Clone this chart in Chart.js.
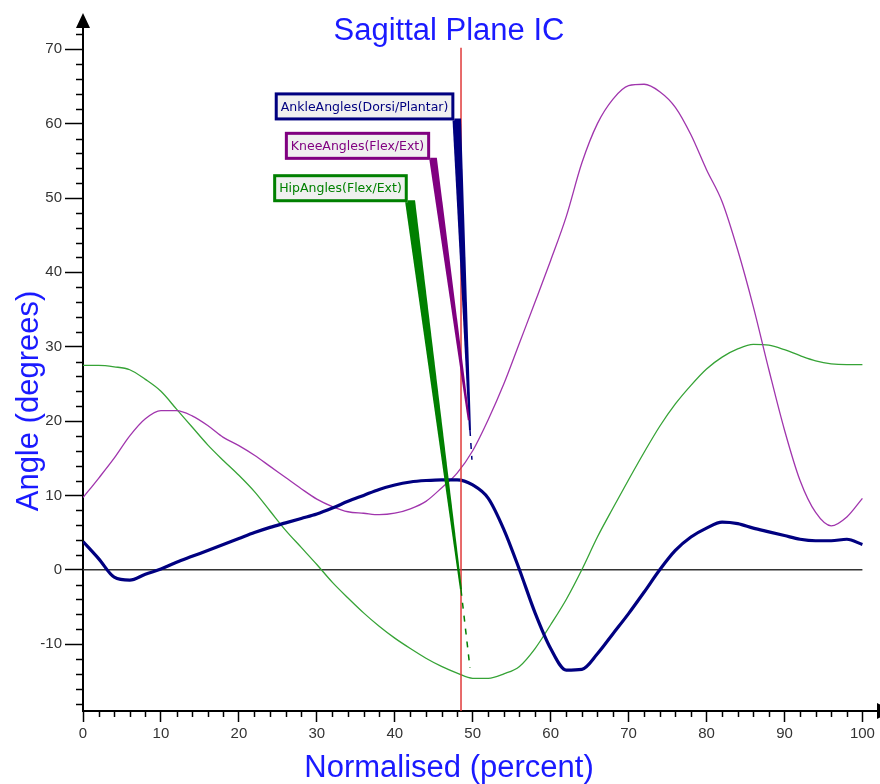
<!DOCTYPE html>
<html>
<head>
<meta charset="utf-8">
<script src="https://cdn.jsdelivr.net/npm/chart.js@4.4.0/dist/chart.umd.min.js"></script>
<style>
  html, body { margin: 0; padding: 0; background: #fff; }
  #wrap { width: 880px; height: 784px; }
</style>
</head>
<body>
<div id="wrap"><canvas id="chart" width="880" height="784"></canvas></div>
<script>
// normalised gait cycle (percent)
const cycle = [0, 2, 4, 6, 8, 10, 12, 14, 16, 18, 20, 22, 24, 26, 28, 30, 32, 34, 36, 38, 40,
  42, 44, 46, 48, 50, 52, 54, 56, 58, 60, 62, 64, 66, 68, 70, 72, 74, 76, 78, 80,
  82, 84, 86, 88, 90, 92, 94, 96, 98, 100]

const ankleAngles = [3.8, 1.5, -1.0, -1.4, -0.6, 0.1, 1.0, 1.8, 2.6, 3.4, 4.2, 5.0, 5.7, 6.3, 6.9, 7.5, 8.3, 9.2, 10.0, 10.8, 11.4,
  11.8, 12.0, 12.1, 12.1, 11.4, 9.6, 5.4, 0.0, -5.8, -10.6, -13.5, -13.4, -11.3, -8.6, -5.9, -3.0, 0.0, 2.6, 4.4, 5.6,
  6.4, 6.2, 5.6, 5.1, 4.6, 4.1, 3.9, 3.9, 4.1, 3.4]

const kneeAngles = [9.7, 12.3, 15.0, 18.0, 20.3, 21.4, 21.4, 20.7, 19.4, 17.8, 16.7, 15.4, 13.9, 12.4, 10.9, 9.5, 8.5, 7.8, 7.6, 7.4, 7.6,
  8.2, 9.2, 11.0, 13.0, 16.0, 20.2, 25.0, 30.5, 36.0, 41.6, 47.5, 54.7, 60.0, 63.3, 65.1, 65.3, 64.3, 62.2, 58.5, 53.8,
  49.5, 43.0, 35.4, 26.9, 18.8, 12.0, 7.7, 5.9, 7.1, 9.6]

const hipAngles = [27.5, 27.5, 27.3, 26.9, 25.6, 24.0, 21.6, 19.2, 16.8, 14.7, 12.7, 10.5, 7.9, 5.3, 3.0, 0.7, -1.7, -3.8, -5.8, -7.6, -9.2,
  -10.6, -11.9, -13.0, -13.9, -14.6, -14.6, -14.0, -13.0, -10.6, -7.4, -4.0, 0.0, 4.4, 8.3, 12.1, 15.8, 19.3, 22.3, 24.8, 27.0,
  28.6, 29.7, 30.3, 30.2, 29.6, 28.8, 28.1, 27.7, 27.6, 27.6]

const yTicks = [-10, 0, 10, 20, 30, 40, 50, 60, 70]
const xTicks = [0, 10, 20, 30, 40, 50, 60, 70, 80, 90, 100]

const seriesNames = ["AnkleAngles(Dorsi/Plantar)", "KneeAngles(Flex/Ext)", "HipAngles(Flex/Ext)"]
const icEvent = 48.5

const FONT = "'Liberation Sans', Arial, sans-serif"
const BLUE = "#1a1aff"

// callouts in data units: box top-left, leader base (x1,x2), tip and dotted tail
const callouts = [
  { color: "#000080", left: 24.6, top: 64.2, base: [47.4, 48.5], tip: [49.65, 18.8], tail: [49.9, 14.8] },
  { color: "#800080", left: 25.9, top: 58.9, base: [44.4, 45.4], tip: [49.5, 20.1], tail: null },
  { color: "#008000", left: 24.4, top: 53.2, base: [41.3, 42.6], tip: [48.5, -2.7], tail: [49.65, -13.2] },
]

function pts(ys) {
  return cycle.map((x, i) => ({ x: x, y: ys[i] }))
}

const decorations = {
  id: "decorations",
  beforeDatasetsDraw(chart) {
    const { ctx, scales: { x, y } } = chart
    // zero line only over the data range
    ctx.save()
    ctx.strokeStyle = "#333"
    ctx.lineWidth = 1.5
    ctx.beginPath()
    ctx.moveTo(x.getPixelForValue(0), y.getPixelForValue(0))
    ctx.lineTo(x.getPixelForValue(100), y.getPixelForValue(0))
    ctx.stroke()
    ctx.restore()
  },
  afterDatasetsDraw(chart) {
    const { ctx, scales: { x, y }, chartArea } = chart
    ctx.save()

    // IC event line
    ctx.strokeStyle = "#e03a3a"
    ctx.lineWidth = 1.5
    ctx.beginPath()
    ctx.moveTo(x.getPixelForValue(icEvent), y.getPixelForValue(70.2))
    ctx.lineTo(x.getPixelForValue(icEvent), chartArea.bottom)
    ctx.stroke()

    // minor ticks
    ctx.strokeStyle = "#000"
    ctx.lineWidth = 1.5
    for (let v = -18; v <= 72; v += 2) {
      if (v % 10 === 0) continue
      const py = Math.round(y.getPixelForValue(v)) + 0.5
      ctx.beginPath()
      ctx.moveTo(chartArea.left - 7, py)
      ctx.lineTo(chartArea.left, py)
      ctx.stroke()
    }
    for (let v = 2; v < 100; v += 2) {
      if (v % 10 === 0) continue
      const px = Math.round(x.getPixelForValue(v)) + 0.5
      ctx.beginPath()
      ctx.moveTo(px, chartArea.bottom)
      ctx.lineTo(px, chartArea.bottom + 6)
      ctx.stroke()
    }

    // axis arrows
    ctx.fillStyle = "#000"
    const ax = x.getPixelForValue(0)
    ctx.beginPath()
    ctx.moveTo(ax, chartArea.top - 14)
    ctx.lineTo(ax - 7, chartArea.top + 1)
    ctx.lineTo(ax + 7, chartArea.top + 1)
    ctx.closePath()
    ctx.fill()
    ctx.beginPath()
    ctx.moveTo(chartArea.right - 1, chartArea.bottom - 8)
    ctx.lineTo(chartArea.right + 14, chartArea.bottom)
    ctx.lineTo(chartArea.right - 1, chartArea.bottom + 8)
    ctx.closePath()
    ctx.fill()

    // callouts
    ctx.font = "12.5px 'DejaVu Sans', Verdana, sans-serif"
    callouts.forEach((c, i) => {
      const bx = x.getPixelForValue(c.left)
      const by = y.getPixelForValue(c.top)
      const w = ctx.measureText(seriesNames[i]).width + 12
      const h = 28
      const b1 = x.getPixelForValue(c.base[0])
      const b2 = x.getPixelForValue(c.base[1])
      const tx = x.getPixelForValue(c.tip[0])
      const ty = y.getPixelForValue(c.tip[1])
      ctx.fillStyle = c.color
      ctx.beginPath()
      ctx.moveTo(b1, by + h - 2)
      ctx.lineTo(b2, by + h - 2)
      ctx.lineTo(tx + 1, ty)
      ctx.lineTo(tx - 1, ty)
      ctx.closePath()
      ctx.fill()
      if (c.tail) {
        ctx.strokeStyle = c.color
        ctx.lineWidth = 1.5
        ctx.setLineDash([6, 7])
        ctx.beginPath()
        ctx.moveTo(tx, ty)
        ctx.lineTo(x.getPixelForValue(c.tail[0]), y.getPixelForValue(c.tail[1]))
        ctx.stroke()
        ctx.setLineDash([])
      }
      ctx.fillStyle = "#f0f0f0"
      ctx.fillRect(bx, by, w, h)
      ctx.strokeStyle = c.color
      ctx.lineWidth = 3
      ctx.strokeRect(bx + 1.5, by + 1.5, w - 3, h - 3)
      ctx.fillStyle = c.color
      ctx.textAlign = "left"
      ctx.textBaseline = "middle"
      ctx.fillText(seriesNames[i], bx + 6, by + h / 2 + 1)
    })

    // titles
    ctx.fillStyle = BLUE
    ctx.textAlign = "center"
    ctx.textBaseline = "middle"
    ctx.font = "31px " + FONT
    ctx.fillText("Sagittal Plane IC", 449, 31)
    ctx.fillText("Normalised (percent)", 449, 768)
    ctx.translate(29, 401)
    ctx.rotate(-Math.PI / 2)
    ctx.fillText("Angle (degrees)", 0, 0)
    ctx.restore()
  },
}

new Chart(document.getElementById("chart"), {
  type: "line",
  data: {
    datasets: [
      { label: seriesNames[0], data: pts(ankleAngles), borderColor: "#000080", borderWidth: 3.2 },
      { label: seriesNames[1], data: pts(kneeAngles), borderColor: "#a035ad", borderWidth: 1.3 },
      { label: seriesNames[2], data: pts(hipAngles), borderColor: "#36a336", borderWidth: 1.3 },
    ],
  },
  options: {
    responsive: false,
    animation: false,
    layout: { padding: { top: 27, right: 2, left: 0, bottom: 0 } },
    elements: { point: { radius: 0 }, line: { tension: 0.35, cubicInterpolationMode: "monotone" } },
    plugins: { legend: { display: false }, tooltip: { enabled: false }, title: { display: false } },
    scales: {
      x: {
        type: "linear",
        min: 0,
        max: 102,
        afterFit: (scale) => { scale.height = 73 },
        afterBuildTicks: (scale) => { scale.ticks = xTicks.map((v) => ({ value: v })) },
        border: { color: "#000", width: 2 },
        grid: { drawOnChartArea: false, tickLength: 11, tickColor: "#000", tickWidth: 1.5 },
        ticks: { color: "#333", padding: 3, font: { family: FONT, size: 15 }, maxRotation: 0 },
      },
      y: {
        type: "linear",
        min: -19,
        max: 73,
        afterFit: (scale) => { scale.width = 83 },
        afterBuildTicks: (scale) => { scale.ticks = yTicks.map((v) => ({ value: v })) },
        border: { color: "#000", width: 2 },
        grid: { drawOnChartArea: false, tickLength: 18, tickColor: "#000", tickWidth: 1.5 },
        ticks: { color: "#333", padding: 3, font: { family: FONT, size: 15 } },
      },
    },
  },
  plugins: [decorations],
})
</script>
</body>
</html>
